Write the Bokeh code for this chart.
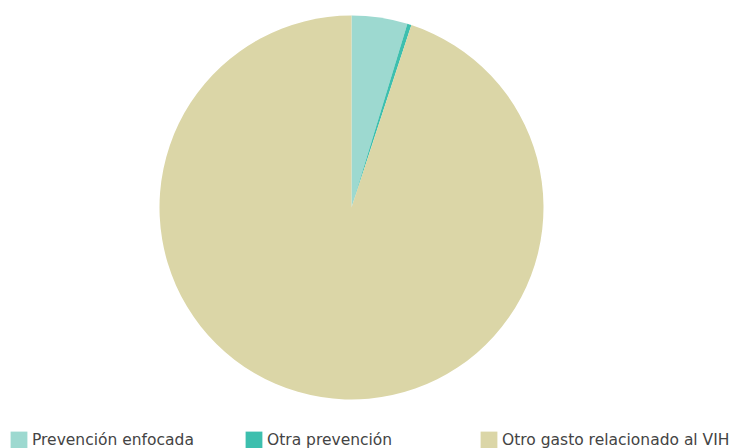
import math
from bokeh.plotting import figure
from bokeh.models import Range1d, Legend, LegendItem, ColumnDataSource
from bokeh.embed import file_html
from bokeh.resources import INLINE

categories = ["Prevención enfocada", "Otra prevención", "Otro gasto relacionado al VIH"]
values = [4.7, 0.35, 94.95]
colors = ["#9dd9d0", "#3dbfae", "#dbd6a7"]

W, H = 731, 448
cx, cy, R = 351, 207, 192  # pie centre / radius in pixels (layout)

p = figure(width=W, height=H, output_backend="svg", toolbar_location=None,
           min_border=0, min_border_left=0, min_border_right=0,
           min_border_top=0, min_border_bottom=0)
p.x_range = Range1d(-cx / R, (W - cx) / R)
p.y_range = Range1d(-(H - cy) / R, cy / R)
p.axis.visible = False
p.grid.visible = False
p.outline_line_color = None
p.background_fill_color = "white"
p.border_fill_color = "white"

total = sum(values)
starts, ends = [], []
acc = 0.0
for v in values:
    a0 = math.pi / 2 - 2 * math.pi * acc / total
    acc += v
    a1 = math.pi / 2 - 2 * math.pi * acc / total
    starts.append(a0)
    ends.append(a1)

renderers = []
for i, cat in enumerate(categories):
    src = ColumnDataSource(dict(x=[0], y=[0], s=[starts[i]], e=[ends[i]]))
    r = p.wedge(x="x", y="y", radius=1, start_angle="s", end_angle="e",
                direction="clock", fill_color=colors[i], line_color=None, source=src)
    renderers.append(r)

legend_x = [8, 243, 478]
for i, cat in enumerate(categories):
    lg = Legend(items=[LegendItem(label=cat, renderers=[renderers[i]])],
                location=(legend_x[i], -2), orientation="horizontal",
                glyph_width=21, glyph_height=21, label_height=21,
                label_standoff=3, padding=0, margin=0, spacing=0,
                border_line_color=None, background_fill_alpha=0,
                label_text_font="DejaVu Sans", label_text_font_size="15.5px",
                label_text_color="#444444")
    p.add_layout(lg, "center")

open("out.html", "w").write(file_html(p, INLINE))
